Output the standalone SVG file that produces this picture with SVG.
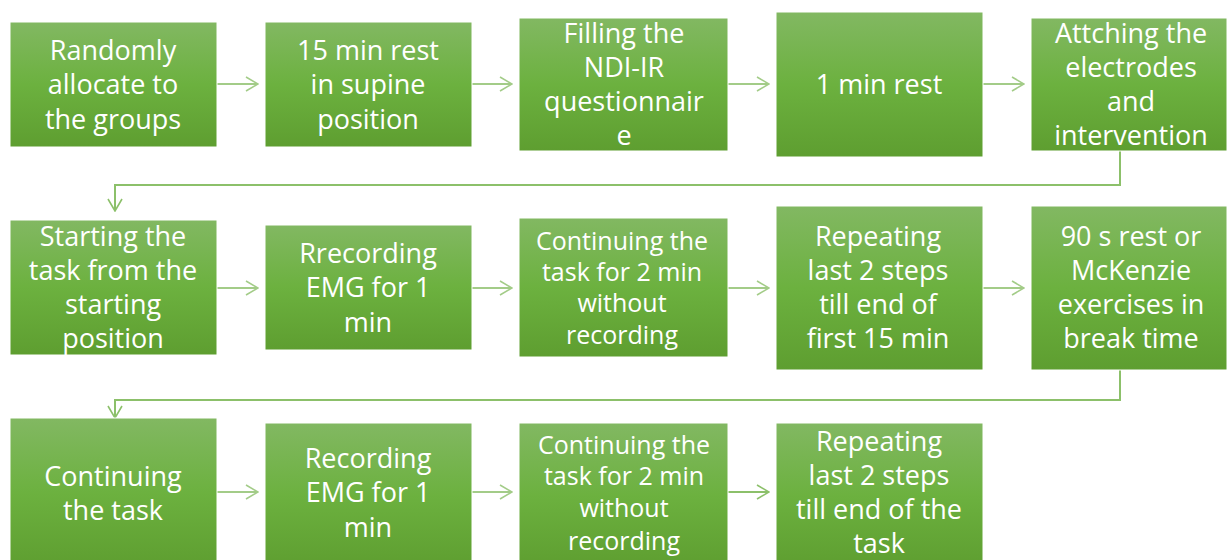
<svg xmlns="http://www.w3.org/2000/svg" width="1227" height="560" viewBox="0 0 1227 560">
<defs>
<linearGradient id="g" x1="0" y1="0" x2="0" y2="1">
<stop offset="0" stop-color="#82b862"/>
<stop offset="0.5" stop-color="#6cb13f"/>
<stop offset="1" stop-color="#5e9e30"/>
</linearGradient>
<marker id="ah" viewBox="0 0 14 16" refX="13" refY="8" markerWidth="14" markerHeight="16" markerUnits="userSpaceOnUse" orient="auto">
<path d="M1,1 L13,8 L1,15" fill="none" stroke="#a3cc88" stroke-width="1.6"/>
</marker>
<marker id="ah2" viewBox="0 0 14 16" refX="13" refY="8" markerWidth="14" markerHeight="16" markerUnits="userSpaceOnUse" orient="auto">
<path d="M1,1 L13,8 L1,15" fill="none" stroke="#8cc06a" stroke-width="1.6"/>
</marker>
</defs>
<style>
.b{fill:url(#g);stroke:#ffffff;stroke-width:1}
.t{font-family:"Open Sans","Liberation Sans",sans-serif;font-size:27px;fill:#ffffff;text-anchor:middle}
.n{font-family:"Open Sans","Liberation Sans",sans-serif;font-size:25px;fill:#ffffff;text-anchor:middle}
.c{fill:none;stroke:#a3cc88;stroke-width:2;marker-end:url(#ah)}
.e{fill:none;stroke:#8cc06a;stroke-width:2;marker-end:url(#ah2)}
</style>
<g id="connectors">
<path class="c" d="M217,84 L258,84"/>
<path class="c" d="M472,84 L512,84"/>
<path class="c" d="M728,84 L769,84"/>
<path class="c" d="M983,84 L1024,84"/>
<path class="e" d="M1120,151 L1120,185 L115,185 L115,211"/>
<path class="c" d="M217,288 L258,288"/>
<path class="c" d="M472,288 L512,288"/>
<path class="c" d="M728,288 L769,288"/>
<path class="c" d="M983,288 L1024,288"/>
<path class="e" d="M1120,370 L1120,400 L115,400 L115,418"/>
<path class="c" d="M217,492 L258,492"/>
<path class="c" d="M472,492 L512,492"/>
<path class="e" d="M728,492 L769,492"/>
</g>
<g id="n1"><rect class="b" x="10" y="22" width="207" height="125"/>
<text class="t" x="113" y="60">Randomly</text><text class="t" x="113" y="94">allocate to</text><text class="t" x="113" y="129">the groups</text></g>
<g id="n2"><rect class="b" x="265" y="22" width="207" height="125"/>
<text class="t" x="368" y="60">15 min rest</text><text class="t" x="368" y="94">in supine</text><text class="t" x="368" y="129">position</text></g>
<g id="n3"><rect class="b" x="519" y="18" width="209" height="133"/>
<text class="t" x="624" y="43">Filling the</text><text class="t" x="624" y="77">NDI-IR</text><text class="t" x="624" y="111">questionnair</text><text class="t" x="624" y="145">e</text></g>
<g id="n4"><rect class="b" x="776" y="12" width="207" height="145"/>
<text class="t" x="879" y="94">1 min rest</text></g>
<g id="n5"><rect class="b" x="1031" y="18" width="196" height="133"/>
<text class="t" x="1131" y="43">Attching the</text><text class="t" x="1131" y="77">electrodes</text><text class="t" x="1131" y="111">and</text><text class="t" x="1131" y="145">intervention</text></g>
<g id="n6"><rect class="b" x="10" y="220" width="207" height="135"/>
<text class="t" x="113" y="246">Starting the</text><text class="t" x="113" y="280">task from the</text><text class="t" x="113" y="314">starting</text><text class="t" x="113" y="348">position</text></g>
<g id="n7"><rect class="b" x="265" y="225" width="207" height="125"/>
<text class="t" x="368" y="263">Rrecording</text><text class="t" x="368" y="297">EMG for 1</text><text class="t" x="368" y="332">min</text></g>
<g id="n8"><rect class="b" x="519" y="218" width="209" height="139"/>
<text class="n" x="622" y="250">Continuing the</text><text class="n" x="622" y="281">task for 2 min</text><text class="n" x="622" y="312">without</text><text class="n" x="622" y="344">recording</text></g>
<g id="n9"><rect class="b" x="776" y="206" width="207" height="164"/>
<text class="t" x="878" y="246">Repeating</text><text class="t" x="878" y="280">last 2 steps</text><text class="t" x="878" y="314">till end of</text><text class="t" x="878" y="348">first 15 min</text></g>
<g id="n10"><rect class="b" x="1031" y="206" width="196" height="164"/>
<text class="t" x="1131" y="246">90 s rest or</text><text class="t" x="1131" y="280">McKenzie</text><text class="t" x="1131" y="314">exercises in</text><text class="t" x="1131" y="348">break time</text></g>
<g id="n11"><rect class="b" x="10" y="418" width="207" height="150"/>
<text class="t" x="113" y="486">Continuing</text><text class="t" x="113" y="520">the task</text></g>
<g id="n12"><rect class="b" x="265" y="423" width="207" height="145"/>
<text class="t" x="368" y="468">Recording</text><text class="t" x="368" y="502">EMG for 1</text><text class="t" x="368" y="537">min</text></g>
<g id="n13"><rect class="b" x="519" y="423" width="209" height="145"/>
<text class="n" x="624" y="454">Continuing the</text><text class="n" x="624" y="485">task for 2 min</text><text class="n" x="624" y="517">without</text><text class="n" x="624" y="550">recording</text></g>
<g id="n14"><rect class="b" x="776" y="423" width="207" height="145"/>
<text class="t" x="879" y="451">Repeating</text><text class="t" x="879" y="485">last 2 steps</text><text class="t" x="879" y="519">till end of the</text><text class="t" x="879" y="553">task</text></g>
</svg>
